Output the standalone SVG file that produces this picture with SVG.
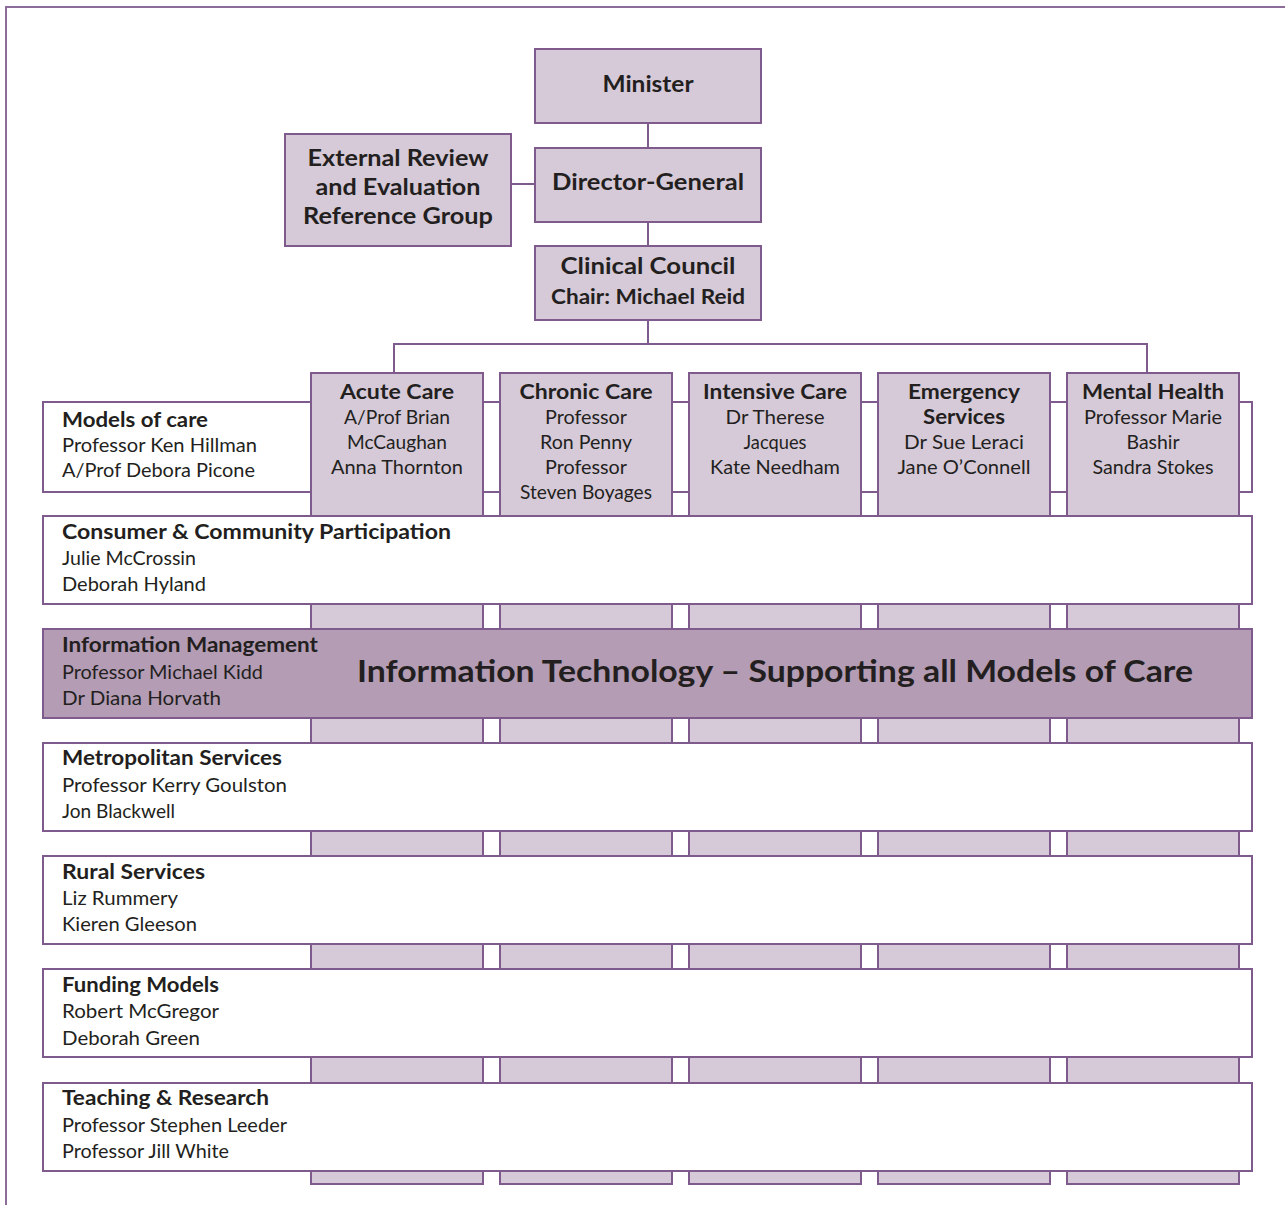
<svg xmlns="http://www.w3.org/2000/svg" width="1285" height="1205" viewBox="0 0 1285 1205">
  <style>
    .box { fill: #d6cad8; stroke: #7f5b8d; stroke-width: 2; }
    .row { fill: #ffffff; stroke: #7f5b8d; stroke-width: 2; }
    .band { fill: #b39cb4; stroke: #7f5b8d; stroke-width: 2; }
    .line { fill: none; stroke: #7f5b8d; stroke-width: 2; }
    .frame { fill: none; stroke: #8c6d99; stroke-width: 2; }
    text { font-family: Lato, "Open Sans", "Liberation Sans", sans-serif; fill: #231f20; }
    .t { font-size: 20px; font-weight: 700; }
    .h { font-size: 23px; font-weight: 700; }
    .b { font-size: 20px; font-weight: 700; }
    .n { font-size: 19px; font-weight: 400; }
    .c { text-anchor: middle; }
    .big { font-size: 30px; font-weight: 700; text-anchor: middle; }
  </style>

  <!-- page frame -->
  <path class="frame" d="M6,1205 V7 H1285"/>

  <!-- connectors -->
  <g id="connectors">
    <path class="line" d="M648,123 V148"/>
    <path class="line" d="M648,222 V246"/>
    <path class="line" d="M511,184 H535"/>
    <path class="line" d="M648,320 V344"/>
    <path class="line" d="M394,373 V344 H1147 V373"/>
  </g>

  <!-- top hierarchy -->
  <g id="minister">
    <rect class="box" x="535" y="49" width="226" height="74"/>
    <text class="h c" x="648" y="92" textLength="91" lengthAdjust="spacingAndGlyphs">Minister</text>
  </g>
  <g id="director-general">
    <rect class="box" x="535" y="148" width="226" height="74"/>
    <text class="h c" x="648" y="190" textLength="192" lengthAdjust="spacingAndGlyphs">Director-General</text>
  </g>
  <g id="external-review">
    <rect class="box" x="285" y="134" width="226" height="112"/>
    <text class="h c" x="398" y="166" textLength="181" lengthAdjust="spacingAndGlyphs">External Review</text>
    <text class="h c" x="398" y="195" textLength="165" lengthAdjust="spacingAndGlyphs">and Evaluation</text>
    <text class="h c" x="398" y="224" textLength="190" lengthAdjust="spacingAndGlyphs">Reference Group</text>
  </g>
  <g id="clinical-council">
    <rect class="box" x="535" y="246" width="226" height="74"/>
    <text class="h c" x="648" y="274" textLength="175" lengthAdjust="spacingAndGlyphs">Clinical Council</text>
    <text class="b c" x="648" y="304" textLength="194" lengthAdjust="spacingAndGlyphs">Chair: Michael Reid</text>
  </g>

  <!-- models of care row (behind the columns) -->
  <g id="models-of-care">
    <rect class="row" x="43" y="402" width="1209" height="90"/>
    <text class="b" x="62" y="427" textLength="146" lengthAdjust="spacingAndGlyphs">Models of care</text>
    <text class="n" x="62" y="452" textLength="195" lengthAdjust="spacingAndGlyphs">Professor Ken Hillman</text>
    <text class="n" x="62" y="477" textLength="193" lengthAdjust="spacingAndGlyphs">A/Prof Debora Picone</text>
  </g>

  <!-- care stream columns -->
  <g id="acute-care">
    <rect class="box" x="311" y="373" width="172" height="811"/>
    <text class="b c" x="397" y="399" textLength="114" lengthAdjust="spacingAndGlyphs">Acute Care</text>
    <text class="n c" x="397" y="424" textLength="106" lengthAdjust="spacingAndGlyphs">A/Prof Brian</text>
    <text class="n c" x="397" y="449" textLength="100" lengthAdjust="spacingAndGlyphs">McCaughan</text>
    <text class="n c" x="397" y="474" textLength="132" lengthAdjust="spacingAndGlyphs">Anna Thornton</text>
  </g>
  <g id="chronic-care">
    <rect class="box" x="500" y="373" width="172" height="811"/>
    <text class="b c" x="586" y="399" textLength="133" lengthAdjust="spacingAndGlyphs">Chronic Care</text>
    <text class="n c" x="586" y="424" textLength="82" lengthAdjust="spacingAndGlyphs">Professor</text>
    <text class="n c" x="586" y="449" textLength="92" lengthAdjust="spacingAndGlyphs">Ron Penny</text>
    <text class="n c" x="586" y="474" textLength="82" lengthAdjust="spacingAndGlyphs">Professor</text>
    <text class="n c" x="586" y="499" textLength="132" lengthAdjust="spacingAndGlyphs">Steven Boyages</text>
  </g>
  <g id="intensive-care">
    <rect class="box" x="689" y="373" width="172" height="811"/>
    <text class="b c" x="775" y="399" textLength="144" lengthAdjust="spacingAndGlyphs">Intensive Care</text>
    <text class="n c" x="775" y="424" textLength="99" lengthAdjust="spacingAndGlyphs">Dr Therese</text>
    <text class="n c" x="775" y="449" textLength="63" lengthAdjust="spacingAndGlyphs">Jacques</text>
    <text class="n c" x="775" y="474" textLength="130" lengthAdjust="spacingAndGlyphs">Kate Needham</text>
  </g>
  <g id="emergency-services">
    <rect class="box" x="878" y="373" width="172" height="811"/>
    <text class="b c" x="964" y="399" textLength="112" lengthAdjust="spacingAndGlyphs">Emergency</text>
    <text class="b c" x="964" y="424" textLength="82" lengthAdjust="spacingAndGlyphs">Services</text>
    <text class="n c" x="964" y="449" textLength="120" lengthAdjust="spacingAndGlyphs">Dr Sue Leraci</text>
    <text class="n c" x="964" y="474" textLength="133" lengthAdjust="spacingAndGlyphs">Jane O’Connell</text>
  </g>
  <g id="mental-health">
    <rect class="box" x="1067" y="373" width="172" height="811"/>
    <text class="b c" x="1153" y="399" textLength="142" lengthAdjust="spacingAndGlyphs">Mental Health</text>
    <text class="n c" x="1153" y="424" textLength="138" lengthAdjust="spacingAndGlyphs">Professor Marie</text>
    <text class="n c" x="1153" y="449" textLength="53" lengthAdjust="spacingAndGlyphs">Bashir</text>
    <text class="n c" x="1153" y="474" textLength="121" lengthAdjust="spacingAndGlyphs">Sandra Stokes</text>
  </g>

  <!-- cross-cutting rows (over the columns) -->
  <g id="consumer-participation">
    <rect class="row" x="43" y="516" width="1209" height="88"/>
    <text class="b" x="62" y="539" textLength="389" lengthAdjust="spacingAndGlyphs">Consumer &amp; Community Participation</text>
    <text class="n" x="62" y="565" textLength="134" lengthAdjust="spacingAndGlyphs">Julie McCrossin</text>
    <text class="n" x="62" y="591" textLength="144" lengthAdjust="spacingAndGlyphs">Deborah Hyland</text>
  </g>
  <g id="information-management">
    <rect class="band" x="43" y="629" width="1209" height="89"/>
    <text class="b" x="62" y="652" textLength="256" lengthAdjust="spacingAndGlyphs">Information Management</text>
    <text class="n" x="62" y="679" textLength="201" lengthAdjust="spacingAndGlyphs">Professor Michael Kidd</text>
    <text class="n" x="62" y="705" textLength="159" lengthAdjust="spacingAndGlyphs">Dr Diana Horvath</text>
    <text class="big" x="775" y="682" textLength="836" lengthAdjust="spacingAndGlyphs">Information Technology – Supporting all Models of Care</text>
  </g>
  <g id="metropolitan-services">
    <rect class="row" x="43" y="743" width="1209" height="88"/>
    <text class="b" x="62" y="765" textLength="220" lengthAdjust="spacingAndGlyphs">Metropolitan Services</text>
    <text class="n" x="62" y="792" textLength="225" lengthAdjust="spacingAndGlyphs">Professor Kerry Goulston</text>
    <text class="n" x="62" y="818" textLength="113" lengthAdjust="spacingAndGlyphs">Jon Blackwell</text>
  </g>
  <g id="rural-services">
    <rect class="row" x="43" y="856" width="1209" height="88"/>
    <text class="b" x="62" y="879" textLength="143" lengthAdjust="spacingAndGlyphs">Rural Services</text>
    <text class="n" x="62" y="905" textLength="116" lengthAdjust="spacingAndGlyphs">Liz Rummery</text>
    <text class="n" x="62" y="931" textLength="135" lengthAdjust="spacingAndGlyphs">Kieren Gleeson</text>
  </g>
  <g id="funding-models">
    <rect class="row" x="43" y="969" width="1209" height="88"/>
    <text class="b" x="62" y="992" textLength="157" lengthAdjust="spacingAndGlyphs">Funding Models</text>
    <text class="n" x="62" y="1018" textLength="157" lengthAdjust="spacingAndGlyphs">Robert McGregor</text>
    <text class="n" x="62" y="1045" textLength="138" lengthAdjust="spacingAndGlyphs">Deborah Green</text>
  </g>
  <g id="teaching-research">
    <rect class="row" x="43" y="1083" width="1209" height="88"/>
    <text class="b" x="62" y="1105" textLength="207" lengthAdjust="spacingAndGlyphs">Teaching &amp; Research</text>
    <text class="n" x="62" y="1132" textLength="225" lengthAdjust="spacingAndGlyphs">Professor Stephen Leeder</text>
    <text class="n" x="62" y="1158" textLength="167" lengthAdjust="spacingAndGlyphs">Professor Jill White</text>
  </g>
</svg>
